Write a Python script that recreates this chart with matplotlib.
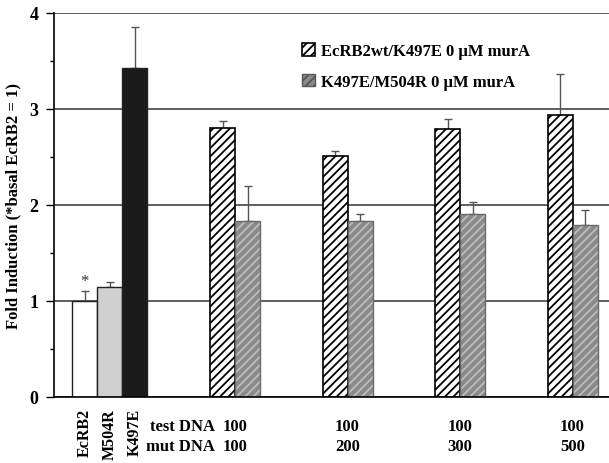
import matplotlib
matplotlib.use("Agg")
import matplotlib.pyplot as plt
import matplotlib.patches as mpatches
import numpy as np

plt.rcParams['font.family'] = ['Liberation Serif', 'DejaVu Serif']
plt.rcParams['font.weight'] = 'bold'
plt.rcParams['hatch.linewidth'] = 1.3

# single constructs
single_names = ["EcRB2", "M504R", "K497E"]
single_vals = [1.0, 1.15, 3.43]
single_err = [0.10, 0.05, 0.42]

# titration groups
test_dna = ["100", "100", "100", "100"]
mut_dna = ["100", "200", "300", "500"]
wt_vals = [2.80, 2.51, 2.79, 2.94]
wt_err = [0.07, 0.05, 0.11, 0.42]
mut_vals = [1.83, 1.83, 1.91, 1.79]
mut_err = [0.37, 0.08, 0.12, 0.16]

legend_labels = ["EcRB2wt/K497E 0 µM murA", "K497E/M504R 0 µM murA"]

fig = plt.figure(figsize=(6.09, 4.64), dpi=100)
ax = fig.add_axes([54/609, 1 - 398/464, 555/609, 384/464])

err_kw = dict(ecolor='#555555', elinewidth=1.0, capsize=3, capthick=1.0)

xs = np.arange(3) + 1.22
single_colors = ['white', '#d0d0d0', '#1a1a1a']
for x, v, e, c in zip(xs, single_vals, single_err, single_colors):
    ax.bar(x, v, width=1.0, color=c, edgecolor='#222222', linewidth=1.0, zorder=3)
    ax.errorbar(x, v, yerr=[[0], [e]], fmt='none', zorder=2, **err_kw)
ax.text(xs[0], single_vals[0] + single_err[0] + 0.02, "*", ha='center', va='bottom',
        fontsize=12, fontweight='normal', color='#333333')

gx = 6.74 + 4.5 * np.arange(len(wt_vals))
ax.bar(gx, wt_vals, width=1.0, color='white', edgecolor='black', hatch='////',
       linewidth=1.2, zorder=3)
ax.errorbar(gx, wt_vals, yerr=[np.zeros(4), wt_err], fmt='none', zorder=2, **err_kw)
ax.bar(gx + 1, mut_vals, width=1.0, color='#8a8a8a', edgecolor='#bdbdbd', hatch='////',
       linewidth=0, zorder=3)
ax.bar(gx + 1, mut_vals, width=1.0, fill=False, edgecolor='#6a6a6a', linewidth=1.0, zorder=4)
ax.errorbar(gx + 1, mut_vals, yerr=[np.zeros(4), mut_err], fmt='none', zorder=2, **err_kw)

ax.set_xlim(0, 22.2)
ax.set_ylim(0, 4)
ax.set_yticks([0, 1, 2, 3, 4])
ax.set_yticks(np.arange(0.5, 4, 1.0), minor=True)
ax.tick_params(axis='y', which='major', length=6, width=1.0, labelsize=13, pad=5)
ax.tick_params(axis='y', which='minor', length=3, width=1.0)
ax.yaxis.grid(True, color='#333333', linewidth=1.1, zorder=0)
ax.set_axisbelow(True)
for s in ['top', 'right']:
    ax.spines[s].set_visible(False)
ax.spines['left'].set_linewidth(1.2)
ax.spines['bottom'].set_linewidth(1.2)
ax.spines['bottom'].set_zorder(5)

ax.set_xticks(xs)
ax.set_xticklabels(single_names, rotation=90, fontsize=11.5)
ax.tick_params(axis='x', length=0, pad=8)

ax.set_ylabel("Fold Induction (*basal EcRB2 = 1)", fontsize=12, fontweight='bold',
              labelpad=6)

trans = ax.get_xaxis_transform()
ax.text(6.44, -0.075, "test DNA", ha='right', va='center', fontsize=12, transform=trans)
ax.text(6.44, -0.128, "mut DNA", ha='right', va='center', fontsize=12, transform=trans)
for x, t, m in zip(gx + 0.5, test_dna, mut_dna):
    ax.text(x, -0.075, t, ha='center', va='center', fontsize=12, transform=trans)
    ax.text(x, -0.128, m, ha='center', va='center', fontsize=12, transform=trans)

h1 = mpatches.Patch(facecolor='white', edgecolor='black', hatch='////', linewidth=1.2)
h2 = mpatches.Patch(facecolor='#8a8a8a', edgecolor='#555555', hatch='////', linewidth=1.0)
ax.legend([h1, h2], legend_labels, loc='upper left', bbox_to_anchor=(0.42, 0.96),
          frameon=False, fontsize=12, handlelength=0.75, handleheight=0.75,
          handletextpad=0.4, labelspacing=0.85)

fig.savefig("out.png", dpi=100)
